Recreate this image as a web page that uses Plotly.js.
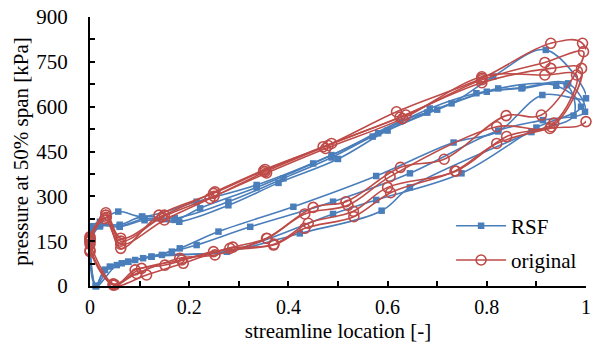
<!DOCTYPE html>
<html>
<head>
<meta charset="utf-8">
<script src="https://cdn.plot.ly/plotly-3.0.1.min.js"></script>
<style>html,body{margin:0;padding:0;background:#fff;}#chart{width:595px;height:343px;}</style>
</head>
<body>
<div id="chart"></div>
<script>
// ---- data ----
// RSF loops (x: streamline location, y: pressure kPa)
var rsf1X = [0.003, 0.020, 0.057, 0.105, 0.215, 0.336, 0.487, 0.625, 0.729, 0.813, 0.919, 1.000, 0.912, 0.823, 0.733, 0.577, 0.410, 0.259, 0.181, 0.124, 0.077, 0.030, 0.012, 0.003];
var rsf1Y = [200, 215, 249, 232, 282, 338, 438, 550, 611, 701, 790, 628, 639, 517, 480, 368, 265, 182, 126, 98, 81, 54, 0, 200];
var rsf2X = [0.003, 0.020, 0.060, 0.105, 0.171, 0.279, 0.390, 0.487, 0.581, 0.685, 0.779, 0.872, 0.964, 0.998, 0.913, 0.823, 0.645, 0.490, 0.323, 0.215, 0.165, 0.107, 0.064, 0.040, 0.012, 0.003];
var rsf2Y = [180, 205, 205, 232, 227, 282, 360, 430, 511, 594, 645, 664, 678, 583, 555, 520, 377, 282, 198, 137, 115, 93, 76, 65, 0, 180];
var rsf3X = [0.003, 0.020, 0.060, 0.110, 0.171, 0.222, 0.336, 0.450, 0.570, 0.680, 0.823, 0.940, 0.990, 0.900, 0.749, 0.577, 0.490, 0.276, 0.145, 0.091, 0.054, 0.012, 0.003];
var rsf3Y = [160, 200, 200, 225, 221, 260, 330, 410, 500, 580, 661, 670, 600, 530, 377, 288, 241, 115, 104, 87, 70, 0, 160];
var rsf4X = [0.003, 0.020, 0.060, 0.110, 0.180, 0.279, 0.380, 0.500, 0.600, 0.700, 0.800, 0.870, 0.961, 0.975, 0.890, 0.645, 0.588, 0.423, 0.276, 0.124, 0.077, 0.030, 0.012, 0.003];
var rsf4Y = [150, 200, 198, 220, 215, 270, 345, 425, 520, 590, 650, 661, 672, 570, 515, 330, 252, 176, 115, 98, 81, 54, 0, 150];

// original loops
var orig1X = [0.000, 0.032, 0.062, 0.150, 0.252, 0.353, 0.487, 0.618, 0.790, 0.929, 0.993, 1.000, 0.927, 0.820, 0.736, 0.606, 0.532, 0.433, 0.370, 0.282, 0.188, 0.114, 0.047, 0.000];
var orig1Y = [160, 245, 160, 237, 315, 390, 477, 583, 695, 812, 812, 550, 527, 477, 385, 312, 232, 193, 137, 126, 76, 37, 3, 115];
var orig2X = [0.000, 0.032, 0.062, 0.139, 0.249, 0.350, 0.470, 0.637, 0.790, 0.917, 0.995, 0.910, 0.839, 0.714, 0.626, 0.516, 0.450, 0.356, 0.288, 0.185, 0.104, 0.047, 0.000];
var orig2Y = [150, 237, 126, 237, 310, 385, 466, 572, 690, 748, 784, 572, 570, 424, 397, 282, 263, 160, 130, 87, 59, 7, 150];
var orig3X = [0.000, 0.030, 0.062, 0.150, 0.242, 0.353, 0.480, 0.625, 0.790, 0.929, 0.991, 0.930, 0.820, 0.605, 0.520, 0.433, 0.357, 0.252, 0.181, 0.094, 0.047, 0.000];
var orig3Y = [155, 225, 140, 221, 293, 382, 470, 565, 680, 728, 728, 533, 533, 366, 270, 241, 159, 104, 93, 42, 5, 120];
var orig4X = [0.000, 0.033, 0.062, 0.145, 0.250, 0.356, 0.475, 0.630, 0.790, 0.917, 0.981, 0.935, 0.840, 0.738, 0.600, 0.531, 0.440, 0.371, 0.249, 0.151, 0.091, 0.050, 0.000];
var orig4Y = [165, 230, 150, 230, 300, 378, 460, 560, 700, 706, 706, 545, 500, 384, 330, 250, 210, 140, 115, 70, 54, 4, 140];

var seriesNames = ['RSF', 'original'];
var xTickVals = [0, 0.2, 0.4, 0.6, 0.8, 1];
var xTickText = ['0', '0.2', '0.4', '0.6', '0.8', '1'];
var yTickVals = [0, 150, 300, 450, 600, 750, 900];

// ---- styling ----
var BLUE = '#4a7ebb';
var RED = '#be4b48';
var traces = [];
function addLoop(xs, ys, isRsf, showLeg) {
  var col = isRsf ? BLUE : RED;
  var name = isRsf ? seriesNames[0] : seriesNames[1];
  traces.push({
    x: xs, y: ys, type: 'scatter', mode: 'lines', name: name,
    legendgroup: name, showlegend: false, hoverinfo: 'skip',
    line: {color: col, width: 1.6, shape: 'spline', smoothing: 1}
  });
  var marker = isRsf
    ? {symbol: 'square', size: 6.5, color: col, line: {width: 0}}
    : {symbol: 'circle-open', size: 10, color: col, line: {width: 1.6, color: col}};
  traces.push({
    x: xs, y: ys, type: 'scatter', mode: 'markers', name: name,
    legendgroup: name, showlegend: false, cliponaxis: false, marker: marker
  });
  if (showLeg) {
    traces.push({
      x: [null], y: [null], type: 'scatter', mode: 'lines+markers', name: name,
      legendgroup: name, showlegend: true,
      line: {color: col, width: 1.6}, marker: marker
    });
  }
}
addLoop(rsf1X, rsf1Y, true, true);
addLoop(rsf2X, rsf2Y, true, false);
addLoop(rsf3X, rsf3Y, true, false);
addLoop(rsf4X, rsf4Y, true, false);
addLoop(orig1X, orig1Y, false, true);
addLoop(orig2X, orig2Y, false, false);
addLoop(orig3X, orig3Y, false, false);
addLoop(orig4X, orig4Y, false, false);

var FONT = '"Liberation Serif", serif';
var layout = {
  width: 595, height: 343,
  margin: {l: 90, r: 9, t: 17, b: 57},
  paper_bgcolor: '#ffffff', plot_bgcolor: '#ffffff',
  font: {family: FONT, size: 21, color: '#000'},
  showlegend: true,
  legend: {
    x: 0.728, y: 0.299, xanchor: 'left', yanchor: 'top',
    bgcolor: 'rgba(255,255,255,0)', borderwidth: 0,
    font: {family: FONT, size: 21, color: '#000'},
    tracegroupgap: 4, itemwidth: 50
  },
  xaxis: {
    range: [0, 1], showgrid: false, zeroline: false, automargin: false,
    showline: true, linecolor: '#000', linewidth: 2,
    ticks: 'inside', ticklen: 5, tickwidth: 2, tickcolor: '#000',
    tickvals: xTickVals, ticktext: xTickText, ticklabelstandoff: 2,
    minor: {ticks: 'inside', dtick: 0.1, ticklen: 5, tickwidth: 2, tickcolor: '#000'},
    tickfont: {family: FONT, size: 20},
    title: {text: 'streamline location [-]', font: {family: FONT, size: 21}, standoff: 9}
  },
  yaxis: {
    range: [0, 900], showgrid: false, zeroline: false, automargin: false,
    showline: true, linecolor: '#000', linewidth: 2,
    ticks: 'inside', ticklen: 5, tickwidth: 2, tickcolor: '#000',
    tickvals: yTickVals, ticklabelstandoff: 16,
    minor: {ticks: 'inside', dtick: 75, ticklen: 5, tickwidth: 2, tickcolor: '#000'},
    tickfont: {family: FONT, size: 21},
    title: {text: 'pressure at 50% span [kPa]', font: {family: FONT, size: 21}, standoff: 2}
  }
};
Plotly.newPlot('chart', traces, layout, {staticPlot: true, displayModeBar: false});
</script>
</body>
</html>
